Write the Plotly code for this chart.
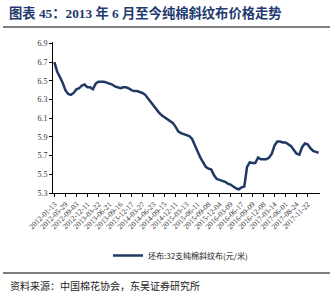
import plotly.graph_objects as go

tick_labels = ["2012-01-13", "2012-05-29", "2012-09-03", "2012-12-11", "2013-03-22", "2013-06-21",
               "2013-09-16", "2013-12-17", "2014-03-27", "2014-06-23", "2014-09-15", "2014-12-11",
               "2015-03-13", "2015-06-11", "2015-09-08", "2015-12-04", "2016-03-09", "2016-06-17",
               "2016-09-09", "2016-12-08", "2017-03-14", "2017-06-01", "2017-08-24", "2017-11-22"]

price = [6.70, 6.60, 6.54, 6.48, 6.40, 6.36, 6.35, 6.37, 6.41, 6.42,
         6.45, 6.46, 6.43, 6.43, 6.41, 6.47, 6.49, 6.49, 6.49, 6.48,
         6.47, 6.46, 6.44, 6.43, 6.42, 6.43, 6.43, 6.42, 6.40, 6.39,
         6.39, 6.38, 6.37, 6.35, 6.31, 6.27, 6.23, 6.19, 6.16, 6.13,
         6.11, 6.09, 6.07, 6.05, 6.01, 5.96, 5.94, 5.93, 5.92, 5.91,
         5.88, 5.81, 5.74, 5.68, 5.63, 5.58, 5.56, 5.55, 5.49, 5.45,
         5.44, 5.43, 5.42, 5.40, 5.39, 5.37, 5.35, 5.34, 5.36, 5.37,
         5.58, 5.63, 5.62, 5.62, 5.68, 5.66, 5.66, 5.66, 5.68, 5.72,
         5.81, 5.85, 5.85, 5.84, 5.84, 5.82, 5.80, 5.76, 5.72, 5.71,
         5.79, 5.83, 5.82, 5.78, 5.75, 5.74, 5.73]

label_step = 4
x_idx = list(range(len(price)))
tick_vals = [i * label_step for i in range(len(tick_labels))]

y_ticks = [5.3, 5.5, 5.7, 5.9, 6.1, 6.3, 6.5, 6.7, 6.9]

title = "图表 45：2013 年 6 月至今纯棉斜纹布价格走势"
series_name = "坯布:32支纯棉斜纹布(元/米)"
source = "资料来源：中国棉花协会，东吴证券研究所"

L, R, T, B = 53, 15, 42, 110
W, H = 335, 303
pw, ph = W - L - R, H - T - B

def px(x):
    return (x - L) / pw

def py(y):
    return (H - B - y) / ph

fig = go.Figure()
fig.add_trace(go.Scatter(x=x_idx, y=price, mode="lines", name=series_name,
                         line=dict(color="#1F3864", width=2.5)))

fig.update_layout(
    width=W, height=H,
    margin=dict(l=L, r=R, t=T, b=B),
    paper_bgcolor="white", plot_bgcolor="white",
    showlegend=True,
    legend=dict(x=px(108), y=py(241), xanchor="left", yanchor="top",
                font=dict(family="Noto Sans CJK SC", size=8, color="#222222"),
                bgcolor="rgba(0,0,0,0)", itemwidth=30),
    xaxis=dict(range=[-0.5, len(price) - 0.5], tickmode="array", tickvals=tick_vals,
               ticktext=tick_labels, tickangle=-45, showgrid=False, zeroline=False,
               showline=True, linecolor="black", linewidth=1, ticks="outside",
               ticklen=3, tickcolor="black",
               tickfont=dict(family="Liberation Serif", size=7.5, color="#333333")),
    yaxis=dict(range=[5.3, 6.915], tickmode="array", tickvals=y_ticks,
               ticktext=[f"{v:.1f}" for v in y_ticks], showgrid=False, zeroline=False,
               showline=True, linecolor="black", linewidth=1, ticks="outside",
               ticklen=3, tickcolor="black",
               tickfont=dict(family="Liberation Serif", size=8, color="#333333")),
    shapes=[
        dict(type="line", xref="paper", yref="paper", x0=px(3), x1=px(330), y0=py(27), y1=py(27),
             line=dict(color="black", width=1)),
        dict(type="line", xref="paper", yref="paper", x0=px(3), x1=px(330), y0=py(273), y1=py(273),
             line=dict(color="black", width=1)),
    ],
    annotations=[
        dict(text=f"<b>{title}</b>", xref="paper", yref="paper", x=px(7), y=py(13),
             xanchor="left", yanchor="middle", showarrow=False,
             font=dict(family="Liberation Serif, Noto Sans CJK SC", size=13.3, color="#1F3A6E")),
        dict(text=source, xref="paper", yref="paper", x=px(8), y=py(285),
             xanchor="left", yanchor="middle", showarrow=False,
             font=dict(family="Noto Sans CJK SC", size=10, color="#222222")),
    ],
)

fig.write_html("out.html")
